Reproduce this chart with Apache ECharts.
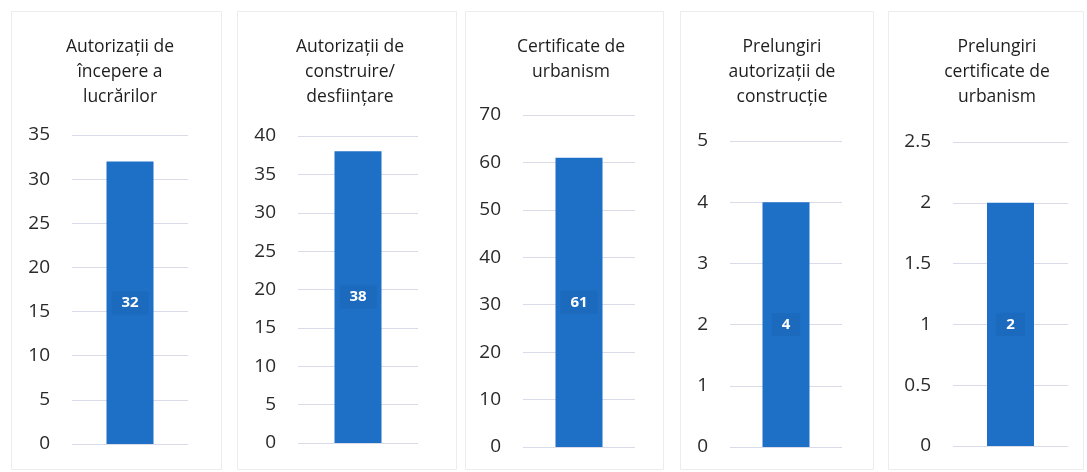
<!DOCTYPE html>
<html>
<head>
<meta charset="utf-8">
<script src="https://cdn.jsdelivr.net/npm/echarts@6/dist/echarts.min.js"></script>
<style>
  html, body { margin: 0; padding: 0; background: #fff; }
  #permits { width: 1087px; height: 472px; }
</style>
</head>
<body>
<div id="permits"></div>
<script>
  // one small chart per document type
  var titles = [
    'Autorizații de\nîncepere a\nlucrărilor',
    'Autorizații de\nconstruire/\ndesființare',
    'Certificate de\nurbanism',
    'Prelungiri\nautorizații de\nconstrucție',
    'Prelungiri\ncertificate de\nurbanism'
  ]
  var values = [32, 38, 61, 4, 2]
  var axisMax = [35, 40, 70, 5, 2.5]
  var axisStep = [5, 5, 10, 1, 0.5]

  // layout of each panel (pixels)
  var panels = [
    {box: [11, 11, 210, 458], grid: [72, 188, 135, 444], tx: 115},
    {box: [237, 11, 219, 458], grid: [298, 418, 136, 443], tx: 345},
    {box: [465, 11, 198, 458], grid: [523, 635, 115, 447], tx: 566},
    {box: [680, 11, 193, 458], grid: [730, 842, 141, 447], tx: 777},
    {box: [888, 11, 195, 458], grid: [953, 1068, 142, 446], tx: 992}
  ]

  var font = 'Open Sans'
  var myChart = echarts.init(document.getElementById('permits'))

  var grid = [], xAxis = [], yAxis = [], series = [], title = [], graphic = []
  for (let i = 0; i < values.length; i++) {
    var p = panels[i]
    graphic.push({
      type: 'rect', silent: true, z: -1,
      shape: {x: p.box[0] + 0.5, y: p.box[1] + 0.5, width: p.box[2], height: p.box[3]},
      style: {fill: '#fff', stroke: '#ececf1', lineWidth: 1}
    })
    title.push({
      text: titles[i],
      left: p.tx, top: 30,
      textAlign: 'center',
      textStyle: {fontFamily: font, fontSize: 17.5, fontWeight: 'normal', color: '#1e1e1e', lineHeight: 25}
    })
    grid.push({
      left: p.grid[0], width: p.grid[1] - p.grid[0],
      top: p.grid[2], height: p.grid[3] - p.grid[2]
    })
    xAxis.push({
      type: 'category', gridIndex: i, data: [''],
      axisLine: {show: false}, axisTick: {show: false}, axisLabel: {show: false}
    })
    yAxis.push({
      type: 'value', gridIndex: i, min: 0, max: axisMax[i], interval: axisStep[i],
      axisLine: {show: false}, axisTick: {show: false},
      axisLabel: {fontFamily: font, fontSize: 19, color: '#2a2a2a', margin: 22},
      splitLine: {lineStyle: {color: '#d9dbe9', width: 1}}
    })
    series.push({
      type: 'bar', xAxisIndex: i, yAxisIndex: i,
      data: [values[i]], barWidth: 47,
      itemStyle: {color: '#1e6fc6'},
      label: {
        show: true, position: 'inside', color: '#fff',
        fontFamily: font, fontSize: 15, fontWeight: 'bold',
        backgroundColor: '#1c6abd', padding: [4, 10]
      }
    })
  }

  var option = {
    backgroundColor: '#fff',
    animation: false,
    graphic: graphic,
    title: title,
    grid: grid,
    xAxis: xAxis,
    yAxis: yAxis,
    series: series
  }

  myChart.setOption(option)
</script>
</body>
</html>
